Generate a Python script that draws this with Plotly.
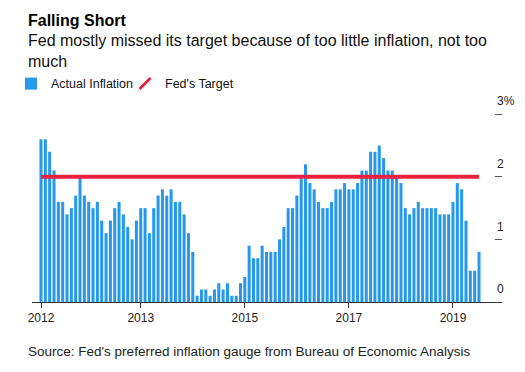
import plotly.graph_objects as go

# ---------------- data ----------------
inflation = [
    2.6, 2.6, 2.4, 2.1, 1.6, 1.6, 1.4, 1.5, 1.7, 2.0,
    1.7, 1.6, 1.5, 1.6, 1.3, 1.1, 1.3, 1.5, 1.6, 1.4,
    1.2, 1.0, 1.3, 1.5, 1.5, 1.1, 1.5, 1.7, 1.8, 1.7,
    1.8, 1.6, 1.6, 1.4, 1.1, 0.8, 0.1, 0.2, 0.2, 0.1,
    0.2, 0.3, 0.2, 0.3, 0.1, 0.1, 0.3, 0.4, 0.9, 0.7,
    0.7, 0.9, 0.8, 0.8, 0.8, 1.0, 1.2, 1.5, 1.5, 1.7,
    2.0, 2.2, 1.9, 1.8, 1.6, 1.5, 1.5, 1.6, 1.8, 1.8,
    1.9, 1.8, 1.8, 1.9, 2.1, 2.1, 2.4, 2.4, 2.5, 2.3,
    2.1, 2.1, 2.0, 1.9, 1.5, 1.4, 1.5, 1.6, 1.5, 1.5,
    1.5, 1.5, 1.4, 1.4, 1.4, 1.6, 1.9, 1.8, 1.3, 0.5,
    0.5, 0.8,
]
months = list(range(len(inflation)))
fed_target = [2.0] * len(inflation)

x_tick_index = [0, 23, 47, 71, 95]
x_tick_labels = ["2012", "2013", "2015", "2017", "2019"]
y_tick_values = [0, 1, 2, 3]
y_tick_labels = ["0", "1", "2", "3%"]

# ---------------- layout geometry (pixels) ----------------
W, H = 525, 372
ML, MR, MT = 32, 23, 100
Y0_PX = 301.7          # pixel row of value 0
PX_PER_UNIT = 62.5     # pixels per 1 percentage point
MB = H - Y0_PX
BAR0_PX, BAR_STEP = 41.0, 4.3366
PLOT_W = W - ML - MR
PLOT_H = H - MT - MB

n = len(inflation)
x_range = [-(BAR0_PX - ML) / BAR_STEP,
           (n - 1) + (W - MR - (BAR0_PX + (n - 1) * BAR_STEP)) / BAR_STEP]
y_range = [0, (Y0_PX - MT) / PX_PER_UNIT]


def px_x(p):
    return (p - ML) / PLOT_W


def px_y(p):
    return (H - MB - p) / PLOT_H


BLUE = "#2699ee"
RED = "#e8213f"
FONT = "Liberation Sans, Arial, sans-serif"

fig = go.Figure()
fig.add_trace(go.Bar(
    x=months, y=inflation, name="Actual Inflation",
    marker=dict(color=BLUE, line=dict(width=0)),
    hoverinfo="y",
))
fig.add_trace(go.Scatter(
    x=months, y=fed_target, mode="lines", name="Fed's Target",
    line=dict(color=RED, width=4), showlegend=False, hoverinfo="y",
))
# legend-only entry with a slanted line glyph
fig.add_trace(go.Scatter(
    x=[None], y=[None], mode="markers", name="Fed's Target",
    marker=dict(symbol="line-ne", size=11, color=RED,
                line=dict(color=RED, width=2.8)),
))

fig.update_layout(
    width=W, height=H,
    margin=dict(l=ML, r=MR, t=MT, b=MB, pad=0, autoexpand=False),
    paper_bgcolor="white", plot_bgcolor="white",
    font=dict(family=FONT, color="#222", size=12),
    bargap=0.3,
    showlegend=True,
    legend=dict(
        orientation="h", x=px_x(11), xanchor="left",
        y=px_y(84), yanchor="middle",
        font=dict(size=12.5, color="#111"),
        itemwidth=30, tracegroupgap=0,
        entrywidth=69, entrywidthmode="pixels",
        bgcolor="rgba(0,0,0,0)",
    ),
    xaxis=dict(
        range=x_range, showgrid=False, zeroline=False, automargin=False,
        showline=True, linecolor="#333", linewidth=1,
        ticks="outside", ticklen=5, tickcolor="#333", tickwidth=1,
        tickvals=x_tick_index, ticktext=x_tick_labels,
        tickfont=dict(size=12, color="#222"),
        fixedrange=True,
    ),
    yaxis=dict(
        range=y_range, side="right", showgrid=False, zeroline=False,
        showline=False, automargin=False,
        ticks="inside", ticklen=7, tickcolor="#555", tickwidth=1,
        tickvals=y_tick_values, ticktext=y_tick_labels,
        tickfont=dict(size=12, color="#222"),
        ticklabelstandoff=-6, ticklabelshift=-13,
        fixedrange=True,
    ),
    annotations=[
        dict(text="<b>Falling Short</b>", xref="paper", yref="paper",
             x=px_x(26), y=px_y(21), xanchor="left", yanchor="middle",
             showarrow=False, font=dict(size=16, color="#000")),
        dict(text="Fed mostly missed its target because of too little inflation, not too<br>much",
             xref="paper", yref="paper", align="left",
             x=px_x(26), y=px_y(51), xanchor="left", yanchor="middle",
             showarrow=False, font=dict(size=16, color="#111")),
        dict(text="Source: Fed's preferred inflation gauge from Bureau of Economic Analysis",
             xref="paper", yref="paper", align="left",
             x=px_x(26), y=px_y(351), xanchor="left", yanchor="middle",
             showarrow=False, font=dict(size=13.5, color="#222")),
    ],
)

fig.write_html(
    "out.html",
    config={"displayModeBar": False},
    post_script="document.body.style.margin='0';document.body.style.padding='0';",
)
